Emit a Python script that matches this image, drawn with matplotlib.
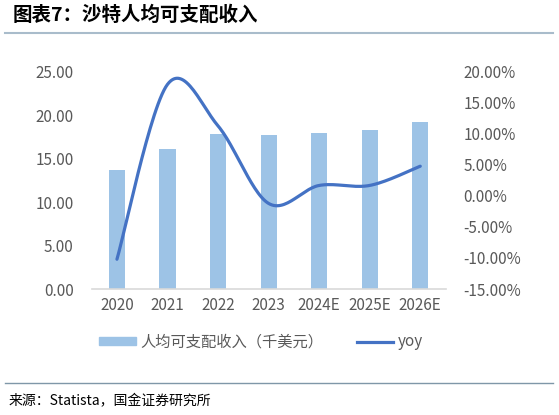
import numpy as np
import matplotlib
matplotlib.use("Agg")
import matplotlib.pyplot as plt
from matplotlib.lines import Line2D
from matplotlib.patches import Patch

plt.rcParams['font.family'] = ['Noto Sans CJK SC', 'DejaVu Sans']

# data
years = ["2020", "2021", "2022", "2023", "2024E", "2025E", "2026E"]
income = [13.7, 16.1, 17.9, 17.7, 18.0, 18.3, 19.2]   # 千美元
yoy = [-10.2, 18.0, 11.3, -1.2, 1.7, 1.7, 4.8]         # %

BAR = "#9DC3E6"
LINE = "#4472C4"
TXT = "#595959"


def smooth(xs, ys, n=30):
    # excel-like smoothed line (bezier through points)
    p = np.column_stack([xs, ys]).astype(float)
    pts = np.vstack([p[0], p, p[-1]])
    out = []
    for i in range(1, len(pts) - 2):
        p0, p1, p2, p3 = pts[i - 1], pts[i], pts[i + 1], pts[i + 2]
        c1 = p1 + (p2 - p0) / 6
        c2 = p2 - (p3 - p1) / 6
        t = np.linspace(0, 1, n)[:, None]
        seg = ((1 - t) ** 3) * p1 + 3 * ((1 - t) ** 2) * t * c1 + 3 * (1 - t) * t ** 2 * c2 + t ** 3 * p2
        out.append(seg if i == 1 else seg[1:])
    out = np.vstack(out)
    return out[:, 0], out[:, 1]


fig = plt.figure(figsize=(5.59, 4.15), dpi=100)
ax = fig.add_axes([0.164, 0.3036, 0.633, 0.523])
x = np.arange(len(years))
ax.bar(x, income, width=0.32, color=BAR, zorder=2)
ax.set_xlim(-0.5, len(years) - 0.5)
ax.set_ylim(0, 25)
ax.set_yticks(np.arange(0, 26, 5))
ax.set_yticklabels([f"{v:.2f}" for v in np.arange(0, 26, 5)])
ax.set_xticks(x)
ax.set_xticklabels(years)
for s in ["top", "left", "right"]:
    ax.spines[s].set_visible(False)
ax.spines["bottom"].set_color("#D9D9D9")
ax.spines["bottom"].set_linewidth(1.2)
ax.tick_params(axis="both", length=0, colors=TXT, labelsize=11)
ax.tick_params(axis="y", pad=13)
ax.tick_params(axis="x", pad=6)

ax2 = ax.twinx()
sx, sy = smooth(x, yoy)
ax2.plot(sx, sy, color=LINE, lw=2.3, solid_capstyle="round", zorder=3)
ax2.set_ylim(-15, 20)
ax2.set_yticks(np.arange(-15, 21, 5))
ax2.set_yticklabels([f"{v:.2f}%" for v in np.arange(-15, 21, 5)])
for s in ["top", "left", "right", "bottom"]:
    ax2.spines[s].set_visible(False)
ax2.tick_params(axis="y", length=0, colors=TXT, labelsize=11, pad=13)

handles = [Patch(color=BAR), Line2D([0], [0], color=LINE, lw=2.3)]
fig.legend(handles, ["人均可支配收入（千美元）", "yoy"], loc="center",
           bbox_to_anchor=(0.467, 0.176), ncol=2, frameon=False,
           fontsize=11, labelcolor=TXT, handlelength=2.4, handleheight=0.45,
           handletextpad=0.3, columnspacing=2.2)

fig.text(0.022, 0.963, "图表7：沙特人均可支配收入", fontsize=14, weight="bold",
         style="italic", va="center", ha="left", color="black")
fig.add_artist(Line2D([0.009, 0.99], [0.92, 0.92], color="#A9BCCB", lw=1.5))
fig.add_artist(Line2D([0.009, 0.99], [0.078, 0.078], color="#7F97A8", lw=1.0))
fig.text(0.015, 0.032, "来源：Statista，国金证券研究所", fontsize=10,
         va="center", ha="left", color="black")

fig.savefig("out.png", dpi=100)
